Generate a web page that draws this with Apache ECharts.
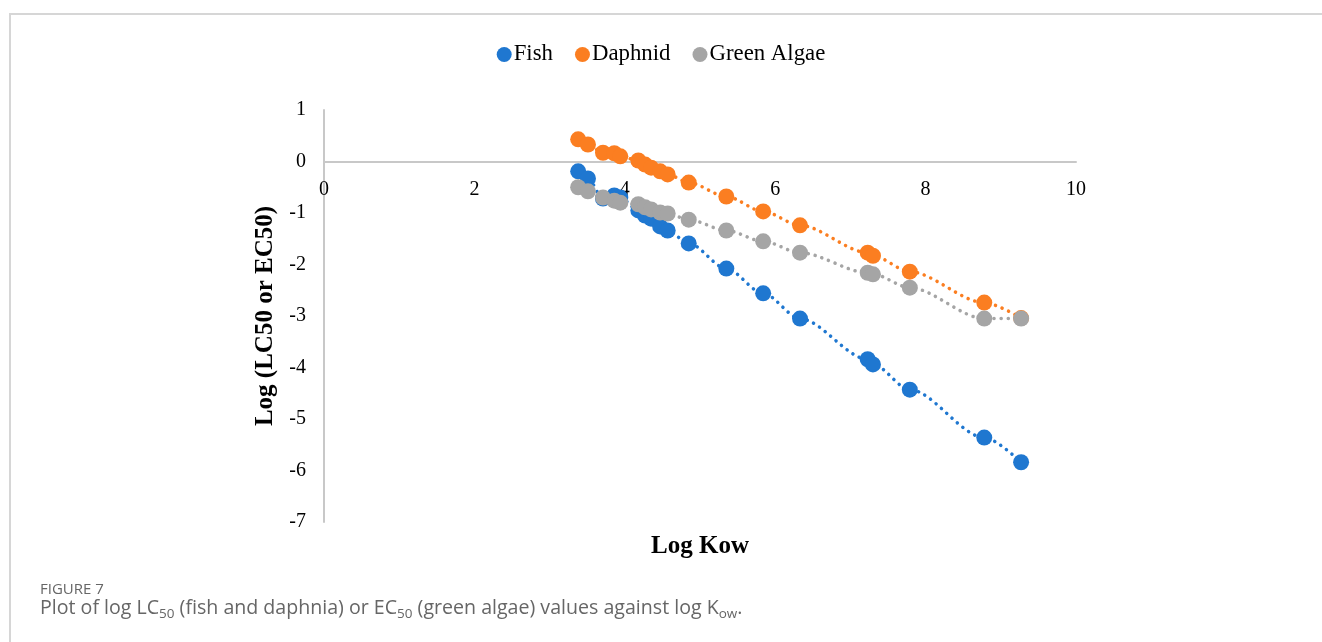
<!DOCTYPE html>
<html>
<head>
<meta charset="utf-8">
<script src="https://cdn.jsdelivr.net/npm/echarts@6/dist/echarts.min.js"></script>
<style>
  html, body { margin: 0; padding: 0; background: #fff; }
  #frame { position: absolute; left: 9px; top: 13px; width: 1313px; height: 629px;
           border-top: 2px solid #d6d6d6; border-left: 2px solid #d6d6d6; }
  #chart { position: absolute; left: 0; top: 0; width: 1322px; height: 642px; }
</style>
</head>
<body>
<div id="frame"></div>
<div id="chart"></div>
<script>
// log Kow of each compound
const logKow = [3.38, 3.51, 3.71, 3.86, 3.94, 4.18, 4.27, 4.35, 4.47, 4.57, 4.85, 5.35, 5.84, 6.33, 7.23, 7.30, 7.79, 8.78, 9.27];
// log LC50 / EC50 per organism
const fish    = [-0.19, -0.33, -0.72, -0.66, -0.70, -0.95, -1.05, -1.11, -1.26, -1.34, -1.59, -2.08, -2.56, -3.05, -3.84, -3.94, -4.43, -5.36, -5.84];
const daphnid = [0.43, 0.33, 0.17, 0.16, 0.10, 0.02, -0.06, -0.12, -0.19, -0.25, -0.41, -0.68, -0.97, -1.24, -1.77, -1.83, -2.14, -2.74, -3.04];
const algae   = [-0.50, -0.58, -0.70, -0.76, -0.80, -0.83, -0.89, -0.93, -0.99, -1.01, -1.13, -1.34, -1.55, -1.77, -2.16, -2.19, -2.45, -3.05, -3.05];
const seriesNames = ['Fish', 'Daphnid', 'Green Algae'];
const colors = ['#1f77d0', '#fb7e21', '#a5a5a5'];
const xTicks = [0, 2, 4, 6, 8, 10];

const serif = '"Liberation Serif", "Times New Roman", serif';
const sans = '"Open Sans", "Noto Sans", sans-serif';

function pairs(ys) { return logKow.map((x, i) => [x, ys[i]]); }

const chart = echarts.init(document.getElementById('chart'), null, { renderer: 'canvas' });
const values = [fish, daphnid, algae];

chart.setOption({
  animation: false,
  color: colors,
  legend: {
    top: 38, left: 'center',
    icon: 'circle', itemWidth: 15, itemHeight: 15, itemGap: 22,
    textStyle: { fontFamily: serif, fontSize: 22.8, color: '#000', padding: [0, 0, 0, -3] },
    data: seriesNames
  },
  grid: { left: 324, right: 246, top: 110, bottom: 120, containLabel: false, outerBoundsMode: 'none' },
  xAxis: {
    type: 'value', min: 0, max: 10, interval: 2,
    name: 'Log Kow', nameLocation: 'middle', nameGap: 12,
    nameTextStyle: { fontFamily: serif, fontSize: 25, fontWeight: 'bold', color: '#000' },
    axisLine: { onZero: true, lineStyle: { color: '#c8c8c8', width: 2 } },
    axisTick: { show: false },
    splitLine: { show: false },
    // tick labels sit just under the zero line
    axisLabel: { fontFamily: serif, fontSize: 20, color: '#000', margin: -342,
                 formatter: v => xTicks.includes(v) ? String(v) : '' }
  },
  yAxis: {
    type: 'value', min: -7, max: 1, interval: 1,
    name: 'Log (LC50 or EC50)', nameLocation: 'middle', nameGap: 46,
    nameTextStyle: { fontFamily: serif, fontSize: 25, fontWeight: 'bold', color: '#000' },
    axisLine: { show: true, lineStyle: { color: '#c8c8c8', width: 2 } },
    axisTick: { show: false },
    splitLine: { show: false },
    axisLabel: { fontFamily: serif, fontSize: 20, color: '#000', margin: 18 }
  },
  series: seriesNames.map((name, k) => ({
    name, type: 'line', data: pairs(values[k]),
    symbol: 'circle', symbolSize: 16,
    itemStyle: { color: colors[k] },
    lineStyle: { color: colors[k], width: 3.5, type: [0.1, 7], cap: 'round' },
    smooth: 0.3, smoothMonotone: 'x',
    z: 2 + k
  })),
  graphic: [
    { type: 'text', left: 40, top: 582,
      style: { text: 'FIGURE 7', font: '500 15px ' + sans, fill: '#666' } },
    { type: 'text', left: 40, top: 598,
      style: {
        text: '{t|Plot of log LC}{sub|50}{t| (fish and daphnia) or EC}{sub|50}{t| (green algae) values against log K}{sub|ow}{t|.}',
        font: '19.6px ' + sans, fill: '#666',
        rich: {
          t: { fontSize: 19.6, fontFamily: sans, fill: '#666', lineHeight: 24, verticalAlign: 'top' },
          sub: { fontSize: 13.5, fontFamily: sans, fill: '#666', lineHeight: 14, verticalAlign: 'top', padding: [9, 0, 0, 0] }
        }
      } }
  ]
});
</script>
</body>
</html>
